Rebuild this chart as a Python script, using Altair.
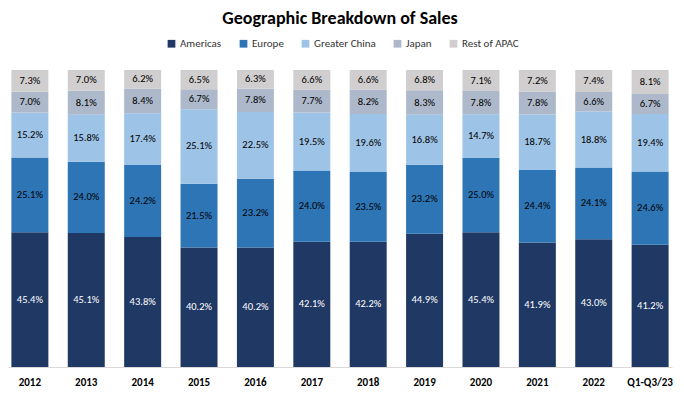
import altair as alt
import pandas as pd

categories = ["2012", "2013", "2014", "2015", "2016", "2017", "2018", "2019",
              "2020", "2021", "2022", "Q1-Q3/23"]
regions = ["Americas", "Europe", "Greater China", "Japan", "Rest of APAC"]
americas = [45.4, 45.1, 43.8, 40.2, 40.2, 42.1, 42.2, 44.9, 45.4, 41.9, 43.0, 41.2]
europe = [25.1, 24.0, 24.2, 21.5, 23.2, 24.0, 23.5, 23.2, 25.0, 24.4, 24.1, 24.6]
greater_china = [15.2, 15.8, 17.4, 25.1, 22.5, 19.5, 19.6, 16.8, 14.7, 18.7, 18.8, 19.4]
japan = [7.0, 8.1, 8.4, 6.7, 7.8, 7.7, 8.2, 8.3, 7.8, 7.8, 6.6, 6.7]
rest_of_apac = [7.3, 7.0, 6.2, 6.5, 6.3, 6.6, 6.6, 6.8, 7.1, 7.2, 7.4, 8.1]
colors = ["#203864", "#2E75B6", "#9DC3E6", "#ADB9CA", "#D0CECE"]

series = [americas, europe, greater_china, japan, rest_of_apac]
rows = []
for ri, (r, vals) in enumerate(zip(regions, series)):
    for c, v in zip(categories, vals):
        rows.append({"cat": c, "region": r, "idx": ri, "value": v,
                     "label": f"{v:.1f}%"})
df = pd.DataFrame(rows)

FONT = "Carlito, Calibri, Lato, sans-serif"

base = alt.Chart(df).transform_stack(
    stack="value", groupby=["cat"], as_=["y0", "y1"], offset="normalize",
    sort=[alt.SortField("idx", order="ascending")]
).transform_calculate(mid="(datum.y0 + datum.y1) / 2")

xenc = alt.X("cat:N", sort=categories, title=None,
             scale=alt.Scale(paddingInner=0.344, paddingOuter=0.06),
             axis=alt.Axis(labelAngle=0, labelFontWeight="bold", labelFontSize=11,
                           labelColor="#000000", labelFont=FONT, ticks=False,
                           domainColor="#D9D9D9", labelPadding=9))

bars = base.mark_bar().encode(
    x=xenc,
    y=alt.Y("y0:Q", scale=alt.Scale(domain=[0, 1]), axis=None),
    y2="y1:Q",
    color=alt.Color("region:N", sort=regions,
                    scale=alt.Scale(domain=regions, range=colors),
                    legend=alt.Legend(orient="none", direction="horizontal",
                                      legendX=158, legendY=-32, title=None,
                                      symbolType="square", symbolSize=60,
                                      symbolStrokeWidth=0,
                                      labelFontSize=11, labelFont=FONT,
                                      labelColor="#333333", columnPadding=16,
                                      symbolOffset=0, labelOffset=3)),
)

texts = base.mark_text(fontSize=10.5, font=FONT).encode(
    x=alt.X("cat:N", sort=categories),
    y=alt.Y("mid:Q", scale=alt.Scale(domain=[0, 1])),
    text="label:N",
    color=alt.condition(alt.datum.region == "Americas", alt.value("#FFFFFF"),
                        alt.value("#000000")),
)

chart = alt.layer(bars, texts).properties(
    width=664, height=297,
    title=alt.Title("Geographic Breakdown of Sales", fontSize=18, font=FONT,
                    fontWeight="bold", color="#000000", anchor="middle", offset=10),
    autosize=alt.AutoSizeParams(type="none"),
    padding={"left": 0, "top": 62, "right": 4, "bottom": 26},
).configure_view(stroke=None)

chart.save("out.html", embed_options={"renderer": "svg", "actions": False})
